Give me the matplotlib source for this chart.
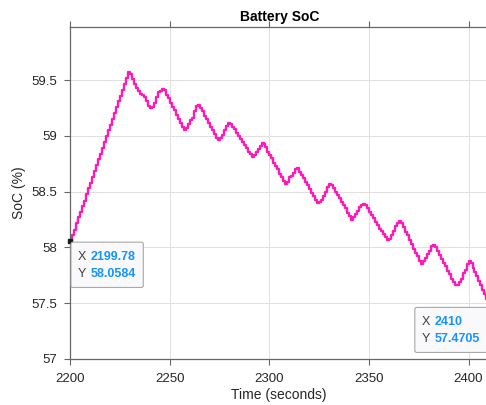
import numpy as np
import matplotlib
matplotlib.use("Agg")
import matplotlib.pyplot as plt
from matplotlib.patches import FancyBboxPatch

plt.rcParams['font.family'] = ['Liberation Sans', 'DejaVu Sans']

# battery state of charge, logged once per second
t_first = 2199.78
soc_first = 58.0584
seconds = list(range(2200, 2411))
soc = [
    58.06, 58.11, 58.16, 58.22, 58.27, 58.32, 58.37, 58.42, 58.48, 58.53,
    58.58, 58.63, 58.69, 58.74, 58.79, 58.84, 58.89, 58.95, 59.00, 59.05,
    59.10, 59.15, 59.21, 59.26, 59.31, 59.36, 59.41, 59.47, 59.52, 59.57,
    59.56, 59.51, 59.47, 59.43, 59.40, 59.38, 59.37, 59.35, 59.31, 59.27,
    59.25, 59.26, 59.30, 59.35, 59.39, 59.40, 59.42, 59.41, 59.37, 59.34,
    59.30, 59.26, 59.23, 59.19, 59.15, 59.12, 59.08, 59.05, 59.07, 59.11,
    59.14, 59.16, 59.22, 59.27, 59.28, 59.25, 59.22, 59.18, 59.15, 59.12,
    59.08, 59.05, 59.02, 58.98, 58.96, 58.98, 59.01, 59.05, 59.09, 59.12,
    59.11, 59.08, 59.06, 59.03, 59.00, 58.97, 58.95, 58.92, 58.89, 58.86,
    58.84, 58.81, 58.83, 58.86, 58.88, 58.91, 58.94, 58.93, 58.90, 58.86,
    58.83, 58.80, 58.76, 58.73, 58.70, 58.66, 58.63, 58.60, 58.57, 58.59,
    58.63, 58.64, 58.67, 58.70, 58.71, 58.68, 58.65, 58.62, 58.59, 58.56,
    58.52, 58.49, 58.46, 58.43, 58.40, 58.41, 58.43, 58.46, 58.50, 58.54,
    58.57, 58.56, 58.53, 58.50, 58.47, 58.44, 58.41, 58.38, 58.35, 58.31,
    58.28, 58.25, 58.27, 58.30, 58.33, 58.36, 58.38, 58.39, 58.38, 58.35,
    58.32, 58.29, 58.26, 58.23, 58.20, 58.17, 58.15, 58.12, 58.09, 58.07,
    58.08, 58.11, 58.15, 58.19, 58.22, 58.24, 58.22, 58.18, 58.14, 58.11,
    58.07, 58.03, 57.99, 57.95, 57.92, 57.88, 57.85, 57.88, 57.91, 57.94,
    57.97, 58.01, 58.02, 58.00, 57.97, 57.93, 57.90, 57.86, 57.83, 57.79,
    57.76, 57.72, 57.69, 57.66, 57.66, 57.69, 57.72, 57.77, 57.80, 57.85,
    57.88, 57.86, 57.82, 57.78, 57.74, 57.70, 57.66, 57.62, 57.58, 57.54,
    57.4705,
]
t_last = 2410
soc_last = 57.4705

x_ticks = [2200, 2250, 2300, 2350, 2400]
y_ticks = [57, 57.5, 58, 58.5, 59, 59.5]
y_tick_labels = ['57', '57.5', '58', '58.5', '59', '59.5']

t = np.array([t_first] + seconds)
y = np.array([soc_first] + soc)

fig = plt.figure(figsize=(4.86, 4.05), dpi=100)
ax = fig.add_axes([0.144, 0.1136, 0.861, 0.8205])

ax.plot(t, y, drawstyle='steps-post', color='#ff1ab8', lw=1.7)

ax.set_xlim(t_first, t_last)
ax.set_ylim(57, 59.98)
ax.set_xticks(x_ticks)
ax.set_xticklabels([str(v) for v in x_ticks])
ax.set_yticks(y_ticks)
ax.set_yticklabels(y_tick_labels)

ax.grid(True, color='#e0e0e0', lw=0.7)
ax.set_axisbelow(True)
for side in ['left', 'bottom', 'top']:
    ax.spines[side].set_color('#666666')
    ax.spines[side].set_linewidth(0.9)
ax.spines['right'].set_visible(False)
ax.tick_params(direction='out', length=4, width=0.8, color='#666666',
               labelsize=9.5, labelcolor='#262626', top=True, pad=5)
ax.tick_params(axis='x', pad=6)

ax.set_title('Battery SoC', fontsize=10, fontweight='bold', pad=4)
ax.set_xlabel('Time (seconds)', fontsize=10, color='#262626', labelpad=2)
ax.set_ylabel('SoC (%)', fontsize=10, color='#262626', labelpad=4)

# marker for the first datatip
ax.plot([t_first], [soc_first], 's', color='#1a1a1a', ms=3.5, clip_on=False, zorder=5)


def datatip(tx, ty, dx, dy, w, h):
    # box drawn in pixels, anchored to the data point
    px, py = ax.transData.transform((tx, ty))
    left = px + dx
    top = py + dy
    box = FancyBboxPatch((left, top - h), w, h,
                         boxstyle='round,pad=0,rounding_size=2',
                         transform=None, facecolor='#f9f9fc',
                         edgecolor='#a8a8a8', lw=0.8, zorder=6)
    fig.patches.append(box)
    for row, (name, val) in enumerate([('X', f'{tx:g}'), ('Y', f'{ty:g}')]):
        yy = top - 14.8 - row * 16.8
        fig.text(left + 6.5, yy, name, transform=None, fontsize=9,
                 color='#404040', va='center', ha='left', zorder=7)
        fig.text(left + 19.5, yy, val, transform=None, fontsize=9,
                 color='#1593ff', fontweight='bold', va='center', ha='left', zorder=7)


datatip(t_first, soc_first, 1.0, -1.2, 72.3, 45.3)
datatip(t_last, soc_last, -73.6, -0.9, 75.0, 45.0)

fig.savefig('out.png', dpi=100)
